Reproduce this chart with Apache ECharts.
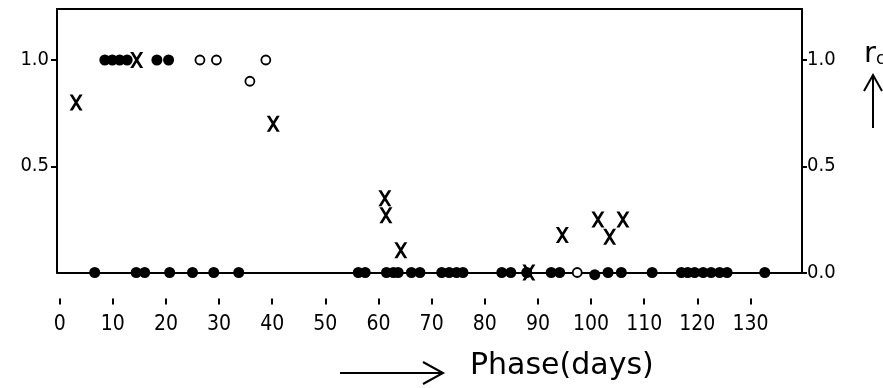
<!DOCTYPE html>
<html>
<head>
<meta charset="utf-8">
<script src="https://cdn.jsdelivr.net/npm/echarts@6/dist/echarts.min.js"></script>
<style>
html,body{margin:0;padding:0;background:#fff;}
#chart{width:883px;height:388px;}
</style>
</head>
<body>
<div id="chart"></div>
<script>
// Tick labels
const xTicks = [0,10,20,30,40,50,60,70,80,90,100,110,120,130];
const leftYTicks = [0.5, 1.0];
const rightYTicks = [0.0, 0.5, 1.0];

// Filled circles: [phase (days), r_c]
const filledPhase = [8.5, 9.9, 11.3, 12.7, 18.3, 20.5,
  6.6, 14.4, 16.0, 20.7, 25.0, 29.0, 33.7,
  56.2, 57.5, 61.5, 62.8, 63.7, 66.2, 67.8, 71.9, 73.3, 74.7, 75.9,
  83.2, 84.9, 87.9, 92.5, 94.1, 100.7, 103.2, 105.7, 111.5,
  117.0, 118.2, 119.5, 121.1, 122.6, 124.2, 125.6, 132.7];
const filledRc = [1.0, 1.0, 1.0, 1.0, 1.0, 1.0,
  0, 0, 0, 0, 0, 0, 0,
  0, 0, 0, 0, 0, 0, 0, 0, 0, 0, 0,
  0, 0, 0, 0, 0, -0.01, 0, 0, 0,
  0, 0, 0, 0, 0, 0, 0, 0];

// Open circles
const openPhase = [26.4, 29.5, 35.8, 38.8, 97.4];
const openRc = [1.0, 1.0, 0.9, 1.0, 0.0];

// Crosses
const crossPhase = [3.1, 14.5, 40.2, 61.2, 61.4, 64.2, 88.3, 94.6, 101.3, 103.5, 106.0];
const crossRc = [0.8, 1.0, 0.7, 0.35, 0.27, 0.105, 0.0, 0.176, 0.25, 0.168, 0.25];

const zip = (a, b) => a.map((v, i) => [v, b[i]]);
const X_PATH = 'path://M0,0 L24,0 L100,120 L76,120 Z M76,0 L100,0 L24,120 L0,120 Z';
const FONT = 'DejaVu Sans';
const FONT_C = "'DejaVu Sans Condensed', 'DejaVu Sans'";
const xMin = -0.5, xMax = 139.7, yMin = 0, yMax = 1.24;

const chart = echarts.init(document.getElementById('chart'), null, {renderer: 'canvas'});
chart.setOption({
  animation: false,
  backgroundColor: '#fff',
  grid: {left: 57, right: 81, top: 9, bottom: 115.5, containLabel: false},
  xAxis: [
    {type: 'value', position: 'bottom', min: xMin, max: xMax,
     axisLine: {show: true, onZero: false, lineStyle: {color: '#000', width: 2}},
     axisTick: {show: false}, axisLabel: {show: false}, splitLine: {show: false}},
    {type: 'value', position: 'bottom', offset: 26, min: xMin, max: xMax,
     axisLine: {show: false, onZero: false},
     axisTick: {show: true, customValues: xTicks, length: 6, lineStyle: {color: '#000', width: 2}},
     axisLabel: {show: true, customValues: xTicks, margin: 16, color: '#000', fontFamily: FONT_C, fontSize: 21},
     splitLine: {show: false}},
    {type: 'value', position: 'top', min: xMin, max: xMax,
     axisLine: {show: true, onZero: false, lineStyle: {color: '#000', width: 2}},
     axisTick: {show: false}, axisLabel: {show: false}, splitLine: {show: false}}
  ],
  yAxis: [
    {type: 'value', position: 'left', min: yMin, max: yMax,
     axisLine: {show: true, onZero: false, lineStyle: {color: '#000', width: 2}},
     axisTick: {show: true, customValues: leftYTicks, length: 6, lineStyle: {color: '#000', width: 2}},
     axisLabel: {show: true, customValues: leftYTicks, margin: 8, color: '#000', fontFamily: FONT_C, fontSize: 20,
       formatter: v => Number(v).toFixed(1)},
     splitLine: {show: false}},
    {type: 'value', position: 'right', min: yMin, max: yMax,
     axisLine: {show: true, onZero: false, lineStyle: {color: '#000', width: 2}},
     axisTick: {show: true, customValues: rightYTicks, length: 5, lineStyle: {color: '#000', width: 2}},
     axisLabel: {show: true, customValues: rightYTicks, margin: 5, color: '#000', fontFamily: FONT_C, fontSize: 20,
       formatter: v => Number(v).toFixed(1)},
     splitLine: {show: false}}
  ],
  series: [
    {type: 'scatter', name: 'filled', xAxisIndex: 0, yAxisIndex: 0, clip: false,
     symbol: 'circle', symbolSize: 11, itemStyle: {color: '#000', opacity: 1},
     data: zip(filledPhase, filledRc)},
    {type: 'scatter', name: 'open', xAxisIndex: 0, yAxisIndex: 0, clip: false,
     symbol: 'circle', symbolSize: 9, itemStyle: {color: '#fff', borderColor: '#000', borderWidth: 1.8, opacity: 1},
     data: zip(openPhase, openRc)},
    {type: 'scatter', name: 'cross', xAxisIndex: 0, yAxisIndex: 0, clip: false, z: 3,
     symbol: X_PATH, symbolSize: [13, 16], itemStyle: {color: '#000', opacity: 1},
     data: zip(crossPhase, crossRc)}
  ],
  graphic: [
    {type: 'text', left: 864, top: 40, style: {
      text: '{r|r}{c|c}', rich: {
        r: {fontFamily: FONT, fontSize: 29, fill: '#000'},
        c: {fontFamily: FONT, fontSize: 17, fill: '#000', padding: [10, 0, 0, 0]}
      }}},
    {type: 'line', shape: {x1: 873, y1: 128, x2: 873, y2: 76}, style: {stroke: '#000', lineWidth: 2}},
    {type: 'polyline', shape: {points: [[864, 91], [873, 75], [882, 91]]}, style: {stroke: '#000', lineWidth: 2, fill: null}},
    {type: 'line', shape: {x1: 340, y1: 373, x2: 442, y2: 373}, style: {stroke: '#000', lineWidth: 2}},
    {type: 'polyline', shape: {points: [[423, 362], [443, 373], [423, 384]]}, style: {stroke: '#000', lineWidth: 2, fill: null}},
    {type: 'text', left: 470, top: 351, style: {text: 'Phase(days)', fontFamily: FONT, fontSize: 30, fill: '#000'}}
  ]
});
</script>
</body>
</html>
